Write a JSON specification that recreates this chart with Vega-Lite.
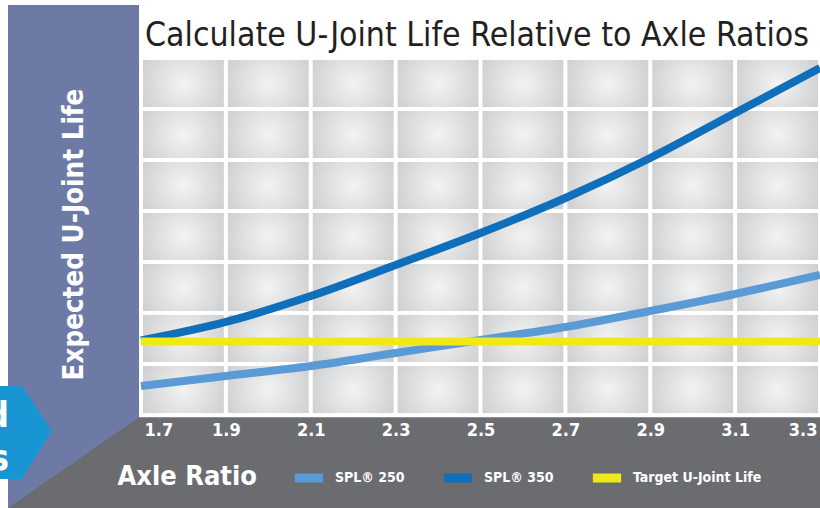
{
  "$schema": "https://vega.github.io/schema/vega-lite/v6.json",
  "width": 679,
  "height": 357,
  "autosize": {"type": "none"},
  "padding": {"left": 141, "top": 58, "right": 0, "bottom": 93},
  "background": "white",
  "config": {
    "view": {"stroke": null},
    "font": "'DejaVu Sans Condensed', 'Liberation Sans Narrow', Roboto, sans-serif",
    "legend": {
      "orient": "none",
      "legendX": 149,
      "legendY": 401,
      "direction": "horizontal",
      "columnPadding": 20,
      "padding": 0,
      "labelColor": "white",
      "labelFont": "'DejaVu Sans Condensed', 'Liberation Sans Narrow', Roboto, sans-serif",
      "labelFontWeight": "bold",
      "labelFontSize": 14,
      "labelOffset": 7,
      "symbolSize": 800,
      "symbolStrokeWidth": 9,
      "symbolType": "stroke",
      "title": null
    }
  },
  "title": {
    "text": "Calculate U-Joint Life Relative to Axle Ratios",
    "anchor": "start",
    "frame": "group",
    "dx": 4,
    "offset": -75,
    "baseline": "alphabetic",
    "fontSize": 33.5,
    "fontWeight": "normal",
    "font": "'DejaVu Sans Condensed', 'Liberation Sans Narrow', Roboto, sans-serif",
    "color": "#231f20"
  },
  "layer": [
    {
      "data": {"values": [{"x0": 1.3866, "x1": 1.6953, "y0": -1.95, "y1": 8.04}]},
      "mark": {"type": "rect", "fill": "#6e7aa6"},
      "encoding": {
        "x": {"field": "x0", "type": "quantitative", "title": "Axle Ratio", "scale": {"domain": [1.7, 3.3], "nice": false, "zero": false}},
        "x2": {"field": "x1"},
        "y": {"field": "y0", "type": "quantitative", "title": "Expected U-Joint Life", "scale": {"domain": [0, 7], "nice": false, "zero": false}},
        "y2": {"field": "y1"}
      }
    },
    {
      "data": {"values": [
        {"x": 1.3866, "top": -1.8235, "bottom": -1.95},
        {"x": 1.6953, "top": -0.045, "bottom": -1.95},
        {"x": 3.35, "top": -0.045, "bottom": -1.95}
      ]},
      "mark": {"type": "area", "color": "#6b6c70", "interpolate": "linear"},
      "encoding": {
        "x": {"field": "x", "type": "quantitative", "title": "Axle Ratio", "scale": {"domain": [1.7, 3.3], "nice": false, "zero": false}},
        "y": {"field": "top", "type": "quantitative", "title": "Expected U-Joint Life", "scale": {"domain": [0, 7], "nice": false, "zero": false}},
        "y2": {"field": "bottom"}
      }
    },
    {
      "data": {"values": [
        {"x": 1.30, "top": 0.5686, "bottom": -1.2549},
        {"x": 1.4196, "top": 0.5686, "bottom": -1.2549},
        {"x": 1.4903, "top": -0.3137, "bottom": -0.3137}
      ]},
      "mark": {"type": "area", "color": "#1a95d3", "interpolate": "linear"},
      "encoding": {
        "x": {"field": "x", "type": "quantitative", "title": "Axle Ratio", "scale": {"domain": [1.7, 3.3], "nice": false, "zero": false}},
        "y": {"field": "top", "type": "quantitative", "title": "Expected U-Joint Life", "scale": {"domain": [0, 7], "nice": false, "zero": false}},
        "y2": {"field": "bottom"}
      }
    },
    {
      "data": {"values": [
        {"x": 1.389, "y": -0.235, "t": "d"},
        {"x": 1.389, "y": -1.078, "t": "s"}
      ]},
      "mark": {"type": "text", "align": "right", "baseline": "alphabetic", "fontSize": 36, "fontWeight": "bold", "color": "white", "font": "'DejaVu Sans Condensed', 'Liberation Sans Narrow', Roboto, sans-serif"},
      "encoding": {
        "x": {"field": "x", "type": "quantitative", "title": "Axle Ratio", "scale": {"domain": [1.7, 3.3], "nice": false, "zero": false}},
        "y": {"field": "y", "type": "quantitative", "title": "Expected U-Joint Life", "scale": {"domain": [0, 7], "nice": false, "zero": false}},
        "text": {"field": "t"}
      }
    },
    {
      "data": {"values": [
        {"c0": 1.7, "c1": 1.9, "r0": [0, 1, 2, 3, 4, 5, 6], "r1": [1, 2, 3, 4, 5, 6, 7]},
        {"c0": 1.9, "c1": 2.1, "r0": [0, 1, 2, 3, 4, 5, 6], "r1": [1, 2, 3, 4, 5, 6, 7]},
        {"c0": 2.1, "c1": 2.3, "r0": [0, 1, 2, 3, 4, 5, 6], "r1": [1, 2, 3, 4, 5, 6, 7]},
        {"c0": 2.3, "c1": 2.5, "r0": [0, 1, 2, 3, 4, 5, 6], "r1": [1, 2, 3, 4, 5, 6, 7]},
        {"c0": 2.5, "c1": 2.7, "r0": [0, 1, 2, 3, 4, 5, 6], "r1": [1, 2, 3, 4, 5, 6, 7]},
        {"c0": 2.7, "c1": 2.9, "r0": [0, 1, 2, 3, 4, 5, 6], "r1": [1, 2, 3, 4, 5, 6, 7]},
        {"c0": 2.9, "c1": 3.1, "r0": [0, 1, 2, 3, 4, 5, 6], "r1": [1, 2, 3, 4, 5, 6, 7]},
        {"c0": 3.1, "c1": 3.3, "r0": [0, 1, 2, 3, 4, 5, 6], "r1": [1, 2, 3, 4, 5, 6, 7]}
      ]},
      "transform": [{"flatten": ["r0", "r1"]}],
      "mark": {
        "type": "rect",
        "xOffset": 2,
        "x2Offset": -2,
        "yOffset": -2,
        "y2Offset": 2,
        "fill": {
          "gradient": "radial",
          "x1": 0.5, "y1": 0.5, "r1": 0,
          "x2": 0.5, "y2": 0.5, "r2": 0.72,
          "stops": [
            {"offset": 0, "color": "#f3f3f3"},
            {"offset": 1, "color": "#c5c6c8"}
          ]
        }
      },
      "encoding": {
        "x": {"field": "c0", "type": "quantitative", "title": "Axle Ratio", "scale": {"domain": [1.7, 3.3], "nice": false, "zero": false}},
        "x2": {"field": "c1"},
        "y": {"field": "r0", "type": "quantitative", "title": "Expected U-Joint Life", "scale": {"domain": [0, 7], "nice": false, "zero": false}},
        "y2": {"field": "r1"}
      }
    },
    {
      "data": {"values": [
        {"ratio": 1.7, "life": 0.569, "series": "SPL® 250"},
        {"ratio": 1.9, "life": 0.765, "series": "SPL® 250"},
        {"ratio": 2.1, "life": 0.961, "series": "SPL® 250"},
        {"ratio": 2.3, "life": 1.216, "series": "SPL® 250"},
        {"ratio": 2.5, "life": 1.471, "series": "SPL® 250"},
        {"ratio": 2.7, "life": 1.725, "series": "SPL® 250"},
        {"ratio": 2.9, "life": 2.039, "series": "SPL® 250"},
        {"ratio": 3.1, "life": 2.373, "series": "SPL® 250"},
        {"ratio": 3.3, "life": 2.745, "series": "SPL® 250"},
        {"ratio": 1.7, "life": 1.46, "series": "SPL® 350"},
        {"ratio": 1.9, "life": 1.824, "series": "SPL® 350"},
        {"ratio": 2.1, "life": 2.333, "series": "SPL® 350"},
        {"ratio": 2.3, "life": 2.941, "series": "SPL® 350"},
        {"ratio": 2.5, "life": 3.569, "series": "SPL® 350"},
        {"ratio": 2.7, "life": 4.255, "series": "SPL® 350"},
        {"ratio": 2.9, "life": 5.039, "series": "SPL® 350"},
        {"ratio": 3.1, "life": 5.922, "series": "SPL® 350"},
        {"ratio": 3.3, "life": 6.804, "series": "SPL® 350"},
        {"ratio": 1.7, "life": 1.441, "series": "Target U-Joint Life"},
        {"ratio": 3.3, "life": 1.441, "series": "Target U-Joint Life"}
      ]},
      "mark": {"type": "line", "strokeWidth": 8, "interpolate": "monotone"},
      "encoding": {
        "x": {
          "field": "ratio", "type": "quantitative", "title": "Axle Ratio",
          "scale": {"domain": [1.7, 3.3], "nice": false, "zero": false},
          "axis": {
            "zindex": 2,
            "values": [1.7, 1.9, 2.1, 2.3, 2.5, 2.7, 2.9, 3.1, 3.3],
            "format": ".1f",
            "labelFlush": true,
            "labelFlushOffset": -3,
            "labelColor": "white",
            "labelFont": "'DejaVu Sans Condensed', 'Liberation Sans Narrow', Roboto, sans-serif",
            "labelFontWeight": "bold",
            "labelFontSize": 18,
            "labelPadding": 6,
            "ticks": false,
            "domain": false,
            "grid": false,
            "titleColor": "white",
            "titleFont": "'DejaVu Sans Condensed', 'Liberation Sans Narrow', Roboto, sans-serif",
            "titleFontWeight": "bold",
            "titleFontSize": 27,
            "titleX": -24,
            "titleY": 69,
            "titleAlign": "left",
            "titleBaseline": "alphabetic"
          }
        },
        "y": {
          "field": "life", "type": "quantitative", "title": "Expected U-Joint Life",
          "scale": {"domain": [0, 7], "nice": false, "zero": false},
          "axis": {
            "zindex": 2,
            "labels": false,
            "ticks": false,
            "domain": false,
            "grid": false,
            "titleColor": "white",
            "titleFont": "'DejaVu Sans Condensed', 'Liberation Sans Narrow', Roboto, sans-serif",
            "titleFontWeight": "bold",
            "titleFontSize": 27.5,
            "titleAngle": 270,
            "titleX": -59,
            "titleY": 176,
            "titleAlign": "center",
            "titleBaseline": "alphabetic"
          }
        },
        "color": {
          "field": "series", "type": "nominal",
          "scale": {
            "domain": ["SPL® 250", "SPL® 350", "Target U-Joint Life"],
            "range": ["#5b9bd5", "#0f6fba", "#f0e916"]
          }
        }
      }
    }
  ]
}
